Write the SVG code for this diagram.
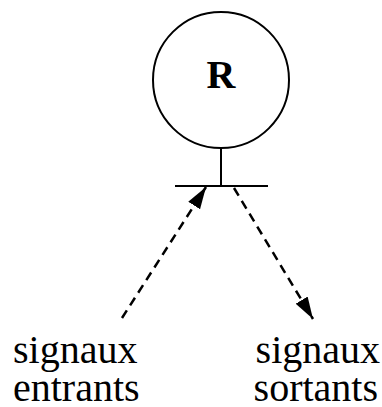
<svg xmlns="http://www.w3.org/2000/svg" width="382" height="407" viewBox="0 0 382 407">
  <style>
    .line { stroke: #000; stroke-width: 2; fill: none; }
    .dash { stroke: #000; stroke-width: 2.5; fill: none; stroke-dasharray: 9 6; }
    .label { font-family: "Liberation Serif", "Times New Roman", serif; font-size: 40px; fill: #000; }
    .title { font-family: "Liberation Serif", "Times New Roman", serif; font-size: 40px; font-weight: bold; fill: #000; }
  </style>
  <defs>
    <marker id="arrow" viewBox="0 0 22 14" refX="22" refY="7" markerWidth="22" markerHeight="14" markerUnits="userSpaceOnUse" orient="auto">
      <path d="M0,0 L22,7 L0,14 Z" fill="#000"/>
    </marker>
  </defs>
  <rect width="382" height="407" fill="#fff"/>
  <g id="node-R">
    <circle class="line" cx="221" cy="80" r="68"/>
    <text class="title" x="221" y="88" text-anchor="middle">R</text>
    <line class="line" x1="221" y1="148" x2="221" y2="186"/>
    <line class="line" x1="175" y1="186" x2="268" y2="186"/>
  </g>
  <g id="connectors">
    <line class="dash" x1="122" y1="318" x2="206" y2="187" marker-end="url(#arrow)"/>
    <line class="dash" x1="234" y1="188" x2="313" y2="319" marker-end="url(#arrow)"/>
  </g>
  <g id="label-in">
    <text class="label" x="13" y="363">signaux</text>
    <text class="label" x="13" y="401">entrants</text>
  </g>
  <g id="label-out">
    <text class="label" x="380" y="363" text-anchor="end">signaux</text>
    <text class="label" x="378" y="401" text-anchor="end">sortants</text>
  </g>
</svg>
